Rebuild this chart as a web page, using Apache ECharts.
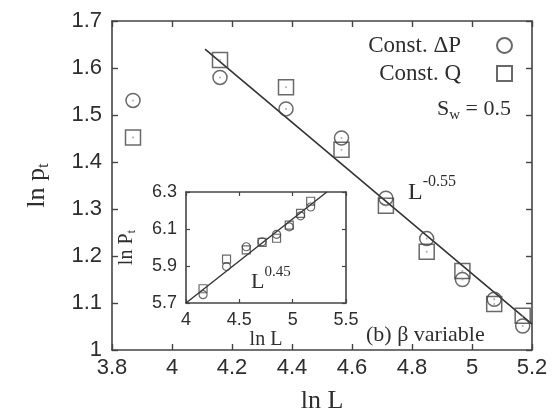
<!DOCTYPE html>
<html>
<head>
<meta charset="utf-8">
<script src="https://cdn.jsdelivr.net/npm/echarts@6/dist/echarts.min.js"></script>
<style>
  html, body { margin: 0; padding: 0; background: #fff; }
  #chart { width: 553px; height: 419px; }
</style>
</head>
<body>
<div id="chart"></div>
<script>
// ln L values of the system sizes
const lnL = [3.87, 4.16, 4.38, 4.565, 4.713, 4.849, 4.968, 5.074, 5.169];
// ln p_t, constant pressure drop
const lnPtDeltaP = [1.531, 1.580, 1.513, 1.451, 1.323, 1.237, 1.150, 1.108, 1.051];
// ln p_t, constant flow rate
const lnPtQ = [1.452, 1.617, 1.559, 1.426, 1.307, 1.209, 1.168, 1.098, 1.073];
// fitted power law L^-0.55 (end points)
const fitMain = [[4.11, 1.64], [5.2, 1.055]];

// inset: ln P_t against ln L (sizes from the second one on)
const insetLnL = lnL.slice(1);
const insetDeltaP = [5.745, 5.897, 6.004, 6.031, 6.071, 6.112, 6.171, 6.219];
const insetQ = [5.777, 5.937, 5.987, 6.028, 6.050, 6.121, 6.184, 6.250];
// fitted power law L^0.45 (end points)
const fitInset = [[4.0, 5.7], [5.32, 6.3]];
// inset tick values
const insetXTicks = [4, 4.5, 5, 5.5];
const insetYTicks = [5.7, 5.9, 6.1, 6.3];

const SERIF = '"Liberation Serif", "DejaVu Serif", serif';
const SANS = '"Liberation Sans", Arial, sans-serif';
const INK = '#444';
const TXT = '#2e2e2e';

const pairs = (xs, ys) => xs.map((x, i) => [x, ys[i]]);

function axisBase(extra) {
  return Object.assign({
    type: 'value',
    axisLine: { show: true, onZero: false, lineStyle: { color: INK, width: 1.6 } },
    axisTick: { show: true, inside: true, length: 6, lineStyle: { color: INK, width: 1.4 } },
    splitLine: { show: false },
    axisLabel: { show: false }
  }, extra);
}

const insetTick = (values) => ({
  show: true, inside: true, length: 4, customValues: values,
  lineStyle: { color: INK, width: 1.2 }
});

// one legend block per entry so both entries share the same right edge
const legendEntry = (name, top) => ({
  data: [name],
  align: 'right',
  right: 35,
  top: top,
  itemWidth: 15,
  itemHeight: 15,
  selectedMode: false,
  textStyle: { fontFamily: SERIF, fontSize: 23, color: TXT, lineHeight: 22, padding: [0, 31, 0, 0] }
});

const hollow = { color: 'rgba(0,0,0,0)', borderColor: INK, borderWidth: 1.5 };

const chart = echarts.init(document.getElementById('chart'), null, { renderer: 'canvas' });

chart.setOption({
  backgroundColor: '#fff',
  animation: false,
  grid: [
    { left: 112, top: 21, width: 420, height: 334 },
    { left: 186, top: 192, width: 160, height: 111, show: true, backgroundColor: '#fff', borderWidth: 0, z: 3 }
  ],
  legend: [
    legendEntry('Const. ΔP', 29),
    legendEntry('Const. Q', 57)
  ],
  xAxis: [
    axisBase({
      gridIndex: 0, position: 'bottom', min: 3.8, max: 5.2, interval: 0.2,
      axisLabel: { show: true, fontFamily: SANS, fontSize: 22, color: TXT, margin: 7 },
      name: 'ln L', nameLocation: 'middle', nameGap: 38,
      nameTextStyle: { fontFamily: SERIF, fontSize: 26, color: TXT }
    }),
    axisBase({ gridIndex: 0, position: 'top', min: 3.8, max: 5.2, interval: 0.2 }),
    axisBase({
      gridIndex: 1, position: 'bottom', min: 4, max: 5.5, interval: 0.5, z: 4,
      axisTick: insetTick(insetXTicks),
      axisLabel: { show: true, customValues: insetXTicks, fontFamily: SANS, fontSize: 18, color: TXT, margin: 8 },
      name: 'ln L', nameLocation: 'middle', nameGap: 26,
      nameTextStyle: { fontFamily: SERIF, fontSize: 20, color: TXT }
    }),
    axisBase({
      gridIndex: 1, position: 'top', min: 4, max: 5.5, interval: 0.5, z: 4,
      axisTick: insetTick(insetXTicks)
    })
  ],
  yAxis: [
    axisBase({
      gridIndex: 0, position: 'left', min: 1, max: 1.7, interval: 0.1,
      axisLabel: { show: true, fontFamily: SANS, fontSize: 22, color: TXT, margin: 10 },
      name: '{a|ln p}{s|t}', nameLocation: 'middle', nameRotate: 90, nameGap: 60,
      nameTextStyle: {
        color: TXT,
        rich: {
          a: { fontFamily: SERIF, fontSize: 26, color: TXT },
          s: { fontFamily: SERIF, fontSize: 17, color: TXT, padding: [12, 0, 0, 0] }
        }
      }
    }),
    axisBase({ gridIndex: 0, position: 'right', min: 1, max: 1.7, interval: 0.1 }),
    axisBase({
      gridIndex: 1, position: 'left', min: 5.7, max: 6.3, interval: 0.1, z: 4,
      axisTick: insetTick(insetYTicks),
      axisLabel: {
        show: true, customValues: insetYTicks, fontFamily: SANS, fontSize: 18, color: TXT, margin: 9,
        formatter: (v) => v.toFixed(1)
      },
      name: '{a|ln P}{s|t}', nameLocation: 'middle', nameRotate: 90, nameGap: 48,
      nameTextStyle: {
        color: TXT,
        rich: {
          a: { fontFamily: SERIF, fontSize: 20, color: TXT },
          s: { fontFamily: SERIF, fontSize: 13, color: TXT, padding: [9, 0, 0, 0] }
        }
      }
    }),
    axisBase({
      gridIndex: 1, position: 'right', min: 5.7, max: 6.3, interval: 0.1, z: 4,
      axisTick: insetTick(insetYTicks)
    })
  ],
  series: [
    {
      name: 'L^-0.55 fit', type: 'line', xAxisIndex: 0, yAxisIndex: 0,
      data: fitMain, showSymbol: false, silent: true,
      lineStyle: { color: '#333', width: 1.6 }, z: 1
    },
    {
      name: 'Const. ΔP', type: 'scatter', xAxisIndex: 0, yAxisIndex: 0,
      data: pairs(lnL, lnPtDeltaP), symbol: 'circle', symbolSize: 14, itemStyle: hollow
    },
    {
      name: 'Const. Q', type: 'scatter', xAxisIndex: 0, yAxisIndex: 0,
      data: pairs(lnL, lnPtQ), symbol: 'rect', symbolSize: 15, itemStyle: hollow
    },
    {
      name: 'centre dots', type: 'scatter', xAxisIndex: 0, yAxisIndex: 0, silent: true,
      data: pairs(lnL, lnPtDeltaP).concat(pairs(lnL, lnPtQ)),
      symbol: 'circle', symbolSize: 2, itemStyle: { color: '#999' }
    },
    {
      name: 'L^0.45 fit', type: 'line', xAxisIndex: 2, yAxisIndex: 2,
      data: fitInset, showSymbol: false, silent: true,
      lineStyle: { color: '#333', width: 1.4 }, z: 5
    },
    {
      name: 'inset ΔP', type: 'scatter', xAxisIndex: 2, yAxisIndex: 2, z: 5,
      data: pairs(insetLnL, insetDeltaP), symbol: 'circle', symbolSize: 8,
      itemStyle: { color: 'rgba(0,0,0,0)', borderColor: INK, borderWidth: 1.2 }
    },
    {
      name: 'inset Q', type: 'scatter', xAxisIndex: 2, yAxisIndex: 2, z: 5,
      data: pairs(insetLnL, insetQ), symbol: 'rect', symbolSize: 8,
      itemStyle: { color: 'rgba(0,0,0,0)', borderColor: INK, borderWidth: 1.2 }
    }
  ],
  graphic: [
    {
      type: 'text', left: 437, top: 98, z: 10,
      style: {
        text: '{a|S}{s|w}{a| = 0.5}',
        rich: {
          a: { fontFamily: SERIF, fontSize: 22, fill: TXT },
          s: { fontFamily: SERIF, fontSize: 15, fill: TXT, padding: [12, 0, 0, 0] }
        }
      }
    },
    {
      type: 'text', left: 408, top: 174, z: 10,
      style: {
        text: '{a|L}{p|-0.55}',
        rich: {
          a: { fontFamily: SERIF, fontSize: 24, fill: TXT },
          p: { fontFamily: SERIF, fontSize: 16, fill: TXT, padding: [0, 0, 22, 0] }
        }
      }
    },
    {
      type: 'text', left: 251, top: 265, z: 10,
      style: {
        text: '{a|L}{p|0.45}',
        rich: {
          a: { fontFamily: SERIF, fontSize: 22, fill: TXT },
          p: { fontFamily: SERIF, fontSize: 15, fill: TXT, padding: [0, 0, 20, 0] }
        }
      }
    },
    {
      type: 'text', left: 366, top: 324, z: 10,
      style: { text: '(b) β variable', fontFamily: SERIF, fontSize: 22, fill: TXT }
    }
  ]
});
</script>
</body>
</html>
